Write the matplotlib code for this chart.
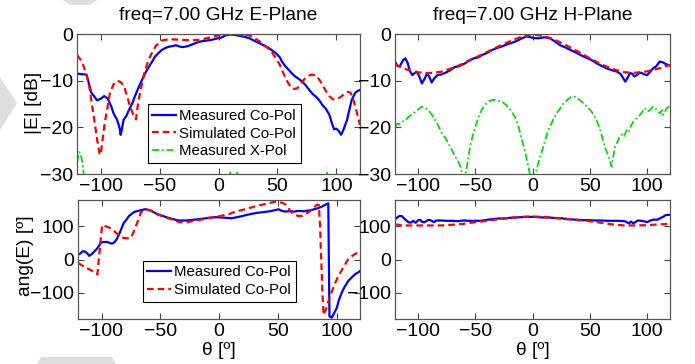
import matplotlib
matplotlib.use("Agg")
import matplotlib.pyplot as plt
from matplotlib.patches import Polygon

plt.rcParams['font.family'] = ['Liberation Sans', 'DejaVu Sans']

# ---- E-plane, magnitude (dB) ----
e_meas_th = [-120, -116, -112, -110, -108, -105, -103, -100, -97, -94, -91, -89, -86, -84, -83, -82, -80.5,
             -78, -76, -73, -71, -68, -65, -62, -59, -56, -54, -51, -48, -45, -42, -39, -36, -33, -30, -26,
             -22, -18, -15, -10, -5, -2, 2, 6, 10, 14, 18, 22, 26, 30, 34, 38, 42, 46, 49, 52, 54, 57, 60,
             62, 65, 68, 71, 74, 77, 80, 83, 86, 88, 91, 94, 96, 98, 100, 102, 104, 106, 109, 111, 113,
             116, 118, 120]
e_meas_db = [-8.5, -8.6, -8.7, -10.5, -12.5, -13.5, -14.2, -13.9, -13.3, -13.8, -15.5, -17, -18.4, -20,
             -21.6, -20.5, -18.4, -17.5, -16.3, -14.8, -13.4, -11.6, -9.9, -8.3, -7, -5.8, -4.9, -4.1,
             -3.4, -3.0, -2.7, -2.6, -2.4, -2.7, -2.8, -2.6, -2.2, -1.8, -1.6, -1.4, -1.2, -1.0, -0.8,
             -0.3, -0.1, -0.2, -0.4, -0.6, -0.9, -1.4, -1.9, -2.4, -2.9, -3.6, -4.2, -5, -6.0, -7.0, -7.8,
             -8.4, -9.1, -9.6, -10.2, -11.0, -12.0, -12.9, -13.5, -14.4, -15.2, -16.0, -17.3, -19.0,
             -20.4, -20.3, -20.8, -21.6, -20.5, -18.4, -16.2, -14.1, -12.6, -12.2, -12.0]

e_sim_th = [-120, -117, -115, -113, -111, -109, -107.5, -105, -103, -101, -100, -98.5, -96.5, -94, -92,
            -89, -86, -83, -80, -78, -75, -72, -70, -68, -65, -63, -59.5, -56, -53, -48, -42, -35, -28,
            -20, -15, -10, -5, 0, 5, 10, 15, 20, 26, 30, 35, 40, 45, 49, 52, 55, 58, 61, 64, 67, 70, 73,
            76, 79, 82, 85, 88, 91, 94, 97, 100, 103, 106, 108, 110, 112, 114, 116, 118, 120]
e_sim_db = [-4.5, -5.5, -6.5, -8.0, -9.6, -12, -14.9, -19.0, -22.5, -25.5, -25.9, -23, -19.1, -15.5,
            -12.5, -10.8, -10.0, -10.3, -11.2, -13.0, -15.5, -17.5, -18.3, -14.5, -10.8, -8.5, -5.6,
            -3.8, -2.5, -1.4, -1.1, -1.2, -1.3, -1.3, -1.2, -0.9, -0.6, -0.3, -0.1, 0, 0, -0.1, -0.3,
            -0.8, -1.6, -2.6, -3.8, -5.3, -6.6, -8.4, -10.0, -11.3, -11.8, -11.6, -10.6, -9.6, -9.0,
            -8.7, -8.8, -9.6, -10.8, -12.2, -13.3, -14.0, -14.0, -13.6, -13.0, -12.6, -12.4, -12.6,
            -13.8, -15.5, -17.5, -19.5]

e_xpol_th = [-121, -119.5, -118.5, -117, -115.5, -114, -112, 8, 9, 10, 11, 14, 15, 16, 17, 90, 91, 92,
             93, 120]
e_xpol_db = [-30.5, -27, -25.3, -25.5, -27.5, -30.5, -33, -33, -30.6, -29.7, -30.6, -33, -30.6, -29.7,
             -30.6, -33, -30.6, -29.7, -30.6, -33]

# ---- H-plane, magnitude (dB) ----
h_meas_th = [-120, -118, -116, -113, -111, -109, -107, -105, -103, -101, -99, -96.5, -94, -92, -90, -88,
             -86, -83, -80, -76, -72, -68, -64, -59, -55, -51, -47, -44, -40, -35, -31, -27, -22, -18,
             -13, -9, -5, -2, 2, 6, 10, 15, 19, 24, 28, 33, 38, 42, 46, 50, 53, 56, 60, 65, 70, 74, 77,
             79, 81, 83, 85, 87, 89, 91, 93, 95, 97, 100, 102, 105, 108, 111, 114, 116, 118, 120]
h_meas_db = [-5.9, -6.8, -7.0, -5.6, -5.2, -6.2, -7.9, -8.8, -8.4, -8.1, -9.0, -10.6, -9.5, -8.4, -9.2,
             -10.4, -9.6, -8.8, -8.7, -8.3, -7.8, -7.1, -6.9, -6.3, -5.6, -5.2, -5.0, -4.5, -4.1, -3.4,
             -3.0, -2.7, -2.2, -1.9, -1.4, -0.9, -0.5, -0.7, -0.9, -0.9, -0.7, -0.9, -1.5, -2.4, -2.8,
             -3.4, -4.0, -4.5, -5.0, -5.4, -5.8, -6.3, -6.8, -7.4, -7.8, -8.1, -8.6, -9.4, -10.2, -9.4,
             -8.4, -8.5, -9.1, -8.8, -8.4, -8.3, -8.6, -8.8, -8.3, -7.4, -6.9, -5.9, -6.1, -6.4, -6.6,
             -6.8]

h_sim_th = [-120, -110, -100, -90, -80, -70, -60, -50, -40, -30, -20, -10, 0, 10, 20, 30, 40, 50, 60, 70,
            80, 90, 100, 110, 120]
h_sim_db = [-6.5, -7.6, -8.2, -8.4, -8.1, -7.3, -6.3, -5.1, -3.9, -2.7, -1.6, -0.6, -0.1, -0.4, -1.3,
            -2.5, -3.8, -5.2, -6.5, -7.5, -8.2, -8.3, -8.0, -7.4, -6.6]

h_xpol_th = [-120, -118, -116, -114, -111, -108, -105, -102, -99, -96.5, -94, -91, -88, -85, -82, -79, -76,
             -73.5, -70.5, -67.5, -65, -63, -61, -60, -58, -56, -54.5, -52, -50, -47, -44.5, -41.5,
             -38.8, -36, -33, -30, -27, -24, -21.5, -18.5, -15.5, -12.5, -10, -7.5, -5.5, -3.5, -2, 0, 2,
             5, 7, 9.5, 12, 15, 18, 21, 24, 27, 30, 34, 37, 41, 45, 49, 52, 54.5, 57, 59, 61, 63, 65.5,
             67.5, 69, 70.5, 72, 74, 76, 78, 80, 82, 84, 86, 88, 91, 94, 96, 98, 100, 102.5, 105, 107,
             109, 111, 113, 114, 116, 117, 120]
h_xpol_db = [-19.9, -19.2, -19.3, -18.8, -18.5, -17.7, -17.2, -16.6, -16.0, -15.6, -15.8, -16.3, -17.2,
             -18.4, -19.8, -21.3, -22.3, -23.4, -24.8, -26.3, -27.2, -28.4, -30.5, -31, -29.5, -26.5,
             -24.1, -21.6, -19.9, -17.8, -16.3, -15.2, -14.5, -14.2, -14.1, -14.3, -14.5, -15.0, -15.6,
             -16.5, -17.7, -19.5, -22.0, -24.2, -26.3, -28.5, -30.5, -31.5, -30.5, -27.7, -26.0, -24.1,
             -22.0, -19.9, -18.4, -17.0, -16.0, -14.9, -14.2, -13.4, -13.5, -14.1, -14.9, -15.9, -16.8,
             -17.7, -19.2, -20.6, -22.3, -24.1, -25.7, -27.0, -28.4, -26.2, -24.1, -23.2, -22.0, -21.5,
             -22.0, -20.6, -21.0, -19.6, -18.8, -18.0, -17.3, -16.6, -15.9, -16.6, -16.3, -15.6, -15.9,
             -16.4, -17.0, -16.3, -17.3, -16.5, -15.9, -15.5]

# ---- E-plane, phase (deg) ----
ep_meas_th = [-120, -118, -116, -114, -112, -110.5, -108, -106, -104, -102, -100.5, -98, -95, -93, -91,
              -89, -87, -85, -83, -81, -78.5, -76.5, -74, -72, -69, -66.6, -63, -61, -58, -55, -52, -48,
              -44, -41, -37, -34, -28, -22, -15, -8.6, -3, 2, 6, 11, 18, 25, 32, 39.5, 45, 50.8, 53, 56,
              60, 64, 67.7, 72, 76, 79, 83, 87, 90, 93, 94, 96, 98, 100.3, 102, 104.5, 107, 110, 113,
              116, 118, 120]
ep_meas_deg = [15, 18, 25, 24, 18, 11, 17, 25, 32, 42, 51, 53, 53, 50, 48, 52, 62, 76, 94, 111, 122, 132,
               139, 144, 147, 149, 152, 151, 148, 142, 136, 132, 127, 124, 120, 118, 118, 120, 123, 126,
               128, 127, 126, 125, 130, 136, 141, 144, 147, 152, 148, 145, 146, 145, 147, 146, 148, 150,
               154, 159, 165, 170, -172, -176, -162, -146, -123, -100, -82, -65, -54, -44, -40, -35]

ep_sim_th = [-120, -117, -113, -108, -103.5, -99.5, -97, -93, -90, -87.7, -85, -82, -78, -75, -72.5,
             -70.8, -68, -66.6, -64, -62, -58, -53.8, -49, -45, -40, -34, -28, -22.7, -16, -8.6, -3, 3,
             9, 14, 20, 25, 31, 37, 42, 47.9, 51, 54, 56.4, 59, 61, 63.5, 67, 70.6, 74, 77, 79, 83.3, 85,
             86, 88, 89, 91, 93, 94.6, 97, 99, 101.6, 104, 107, 110, 113, 116, 120]
ep_sim_deg = [-10, -17, -25, -34, -45, 104, 101, 96, 88, 81, 73, 66, 64, 66, 85, 101, 125, 142, 150, 152,
              148, 140, 132, 127, 121, 113, 112, 116, 120, 126, 129, 133, 138, 145, 150, 155, 161, 166,
              170, 175, 174, 171, 167, 156, 145, 137, 132, 132, 138, 145, 152, 166, 165, 100, -100, -168,
              -151, -128, -110, -88, -70, -50, -35, -17, 1, 10, 17, 26]

# ---- H-plane, phase (deg) ----
hp_meas_th = [-120, -118, -116, -114, -112, -110, -108, -106, -104, -102, -100, -98, -96, -94, -92, -90,
              -88, -86, -84, -80, -75, -70, -65, -60, -55, -50, -45, -40, -35, -30, -25, -20, -15, -10,
              -5, 0, 5, 10, 15, 20, 25, 30, 35, 40, 45, 50, 55, 60, 65, 70, 75, 80, 82, 84, 86, 88, 90,
              92, 95, 98, 100, 103, 106, 108, 110, 112, 114, 116, 118, 120]
hp_meas_deg = [122, 127, 132, 131, 124, 118, 112, 112, 117, 111, 118, 120, 113, 113, 118, 120, 117, 113,
               118, 118, 117, 117, 116, 118, 117, 117, 117, 120, 122, 124, 124, 126, 127, 128, 129, 129,
               128, 127, 127, 125, 125, 122, 121, 120, 119, 119, 118, 118, 117, 117, 117, 116, 114, 109,
               115, 109, 114, 118, 117, 115, 113, 118, 121, 120, 122, 126, 129, 134, 135, 135]

hp_sim_th = [-120, -110, -100, -90, -80, -70, -60, -50, -40, -30, -20, -10, 0, 10, 20, 30, 40, 50, 60,
             70, 80, 90, 100, 110, 120]
hp_sim_deg = [106, 103, 103, 103, 103, 105, 108, 113, 117, 122, 126, 129, 130, 129, 126, 123, 119, 116,
              111, 106, 103, 103, 104, 106, 108]

BLUE = '#0000ff'
RED = '#ff0000'
GREEN = '#00e000'
TICK_FS = 14
LABEL_FS = 13.8

fig = plt.figure(figsize=(6.95, 3.64), dpi=100)
W, H = 695.0, 364.0

# faint grey watermark shapes behind the plots
for pts in ([(0, 77), (17, 103), (0, 130)],
            [(63, 0), (97, 0), (90, 5), (70, 5)],
            [(37, 364), (41, 357), (112, 357), (116, 364)]):
    fig.patches.append(Polygon([(x / W, 1 - y / H) for x, y in pts], closed=True,
                               transform=fig.transFigure, facecolor='#dedede',
                               edgecolor='none', zorder=-5))


def make_ax(x0, y0, x1, y1):
    return fig.add_axes([x0 / W, 1 - y1 / H, (x1 - x0) / W, (y1 - y0) / H])


ax_e = make_ax(77, 34, 360, 174)
ax_h = make_ax(395, 34, 670, 174)
ax_ep = make_ax(78, 200, 360, 319)
ax_hp = make_ax(395, 200, 670, 319)

ax_e.plot(e_meas_th, e_meas_db, color=BLUE, lw=1.6, label='Measured Co-Pol')
ax_e.plot(e_sim_th, e_sim_db, color=RED, lw=1.6, ls=(0, (3, 1.8)), label='Simulated Co-Pol')
ax_e.plot(e_xpol_th, e_xpol_db, color=GREEN, lw=1.3, ls=(0, (4, 1.5, 1, 1.5)), label='Measured X-Pol')

ax_h.plot(h_meas_th, h_meas_db, color=BLUE, lw=1.6)
ax_h.plot(h_sim_th, h_sim_db, color=RED, lw=1.6, ls=(0, (3, 1.8)))
ax_h.plot(h_xpol_th, h_xpol_db, color=GREEN, lw=1.3, ls=(0, (4, 1.5, 1, 1.5)))

ax_ep.plot(ep_meas_th, ep_meas_deg, color=BLUE, lw=1.6, label='Measured Co-Pol')
ax_ep.plot(ep_sim_th, ep_sim_deg, color=RED, lw=1.6, ls=(0, (3, 1.8)), label='Simulated Co-Pol')

ax_hp.plot(hp_meas_th, hp_meas_deg, color=BLUE, lw=1.6)
ax_hp.plot(hp_sim_th, hp_sim_deg, color=RED, lw=1.6, ls=(0, (3, 1.8)))

for ax in (ax_e, ax_h):
    ax.set_ylim(-30, 0)
    ax.set_yticks([-30, -20, -10, 0])
for ax in (ax_ep, ax_hp):
    ax.set_ylim(-180, 180)
    ax.set_yticks([-100, 0, 100])

for ax in (ax_e, ax_h, ax_ep, ax_hp):
    ax.set_xlim(-120, 120)
    ax.set_xticks([-100, -50, 0, 50, 100])
    ax.tick_params(direction='in', top=True, right=True, length=4, width=0.8,
                   labelsize=TICK_FS, pad=3, color='#444444')
    for sp in ax.spines.values():
        sp.set_color('#555555')
        sp.set_linewidth(0.9)

ax_e.set_title('freq=7.00 GHz E-Plane', fontsize=LABEL_FS, pad=10)
ax_h.set_title('freq=7.00 GHz H-Plane', fontsize=LABEL_FS, pad=10)
ax_e.set_ylabel('|E| [dB]', fontsize=LABEL_FS)
ax_e.yaxis.set_label_coords(-0.124, 0.51)
ax_ep.set_ylabel('ang(E) [º]', fontsize=LABEL_FS)
ax_ep.yaxis.set_label_coords(-0.155, 0.53)
ax_ep.set_xlabel('θ [º]', fontsize=LABEL_FS, labelpad=1)
ax_hp.set_xlabel('θ [º]', fontsize=LABEL_FS, labelpad=1)

leg_kw = dict(fontsize=10.8, frameon=True, fancybox=False, edgecolor='black', framealpha=1,
              handlelength=1.6, handletextpad=0.2, borderpad=0.3, labelspacing=0.25, borderaxespad=0)
leg = ax_e.legend(loc='lower left', bbox_to_anchor=(0.25, 0.079), **leg_kw)
leg.get_frame().set_linewidth(0.8)
leg2 = ax_ep.legend(loc='lower left', bbox_to_anchor=(0.23, 0.146), **leg_kw)
leg2.get_frame().set_linewidth(0.8)

fig.savefig('out.png', dpi=100)
